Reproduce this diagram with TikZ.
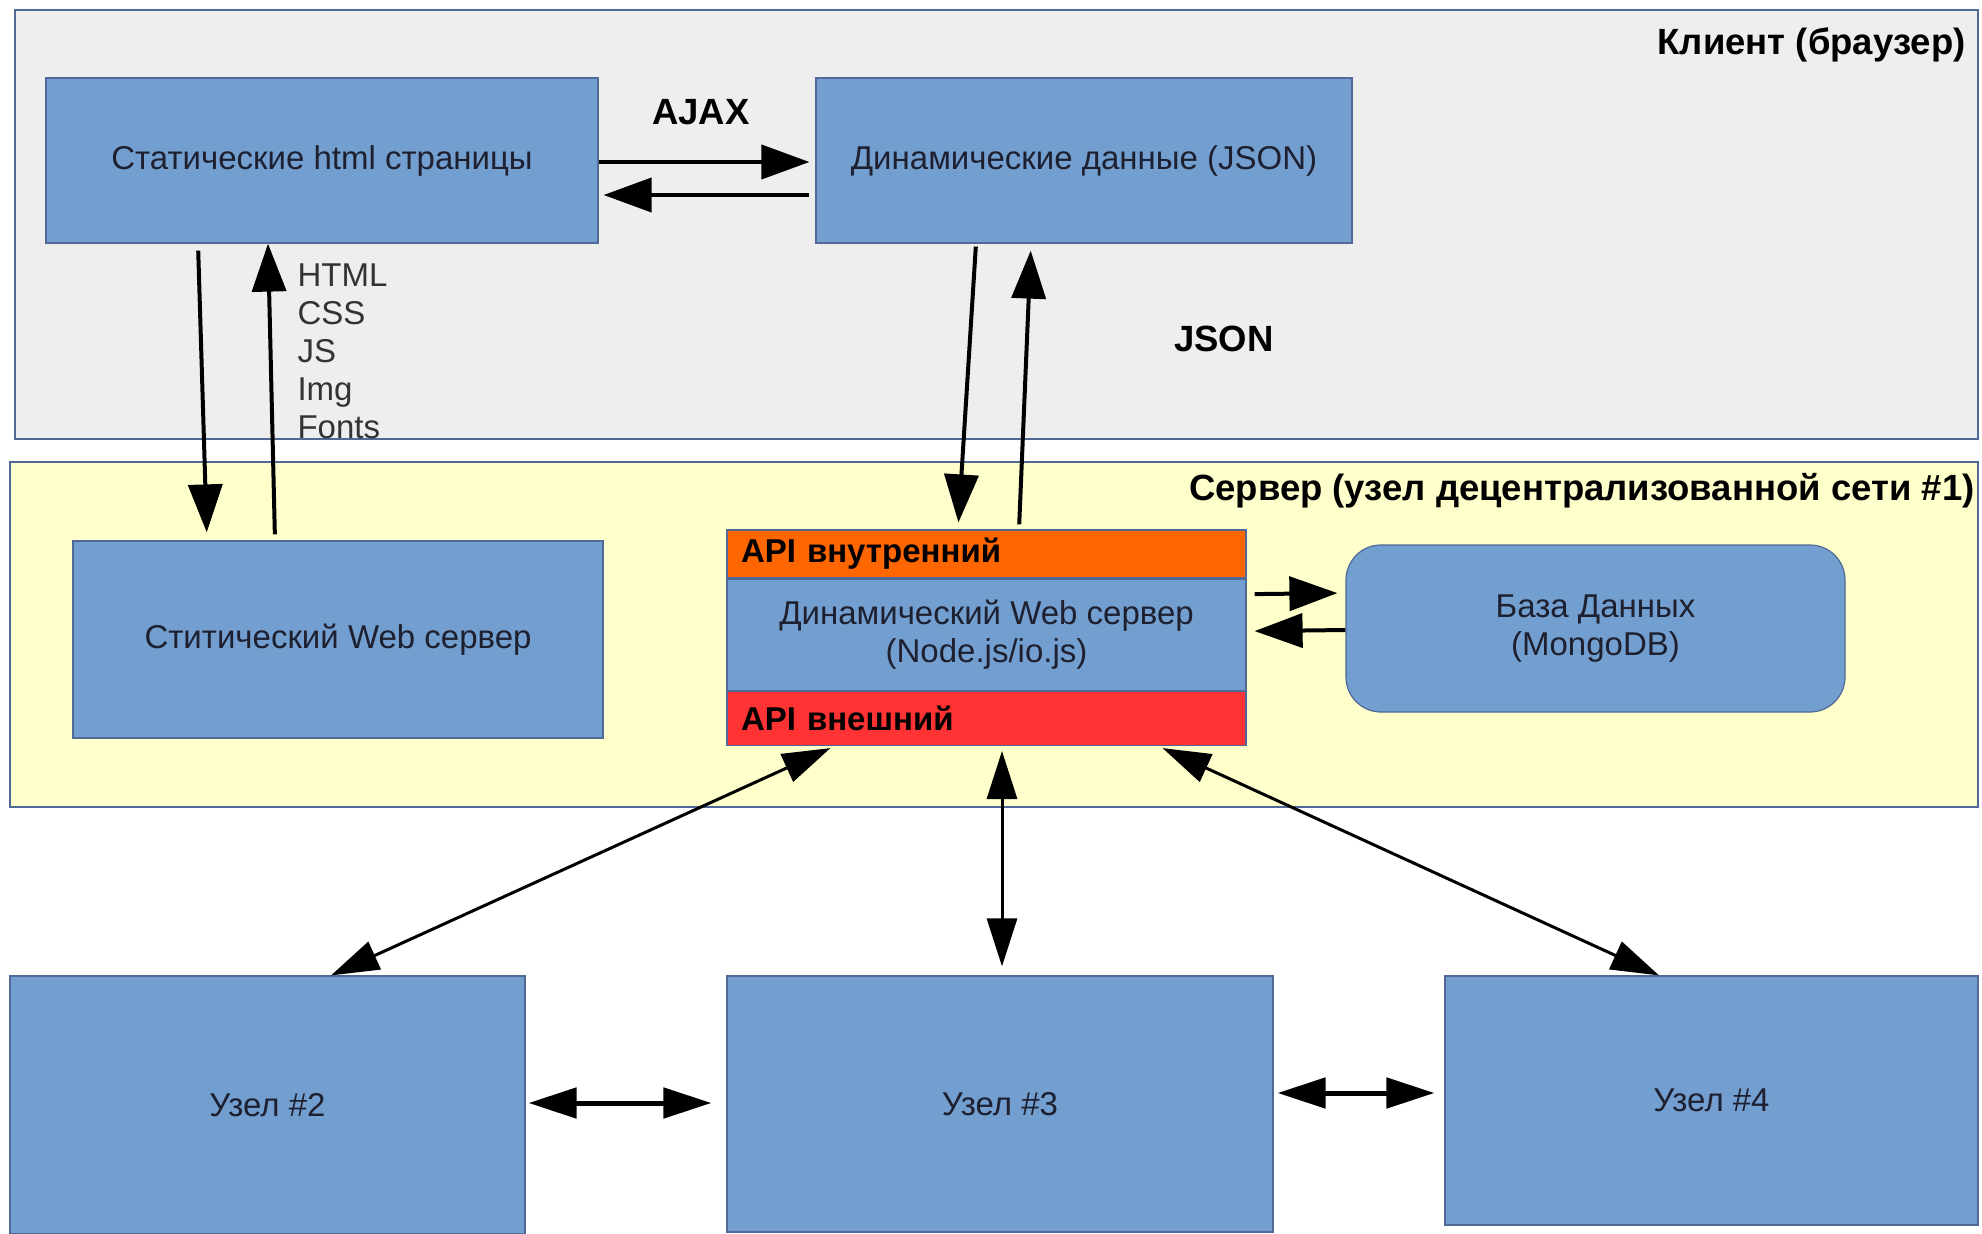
\documentclass[tikz,border=0pt]{standalone}
\usepackage{fontspec}
\setmainfont{Liberation Sans}
\usetikzlibrary{positioning, arrows.meta}

\definecolor{boxblue}{RGB}{114,159,207}
\definecolor{boxline}{RGB}{80,105,150}
\definecolor{clientbg}{RGB}{238,238,238}
\definecolor{serverbg}{RGB}{255,255,204}
\definecolor{apiorange}{RGB}{255,102,0}
\definecolor{apired}{RGB}{255,51,51}
\definecolor{txt}{RGB}{30,32,48}

\begin{document}
\begin{tikzpicture}[
    x=1pt, y=-1pt,
    every node/.style={font=\fontsize{33}{38}\selectfont, text=txt},
    panel/.style={rectangle, draw=boxline, line width=1.2pt, inner sep=0pt},
    box/.style={rectangle, draw=boxline, fill=boxblue, line width=1.2pt, inner sep=0pt, align=center},
    api/.style={rectangle, draw=boxline, line width=1.2pt, minimum width=519pt, text width=491pt, inner xsep=14pt, inner ysep=0pt, align=left, font=\fontsize{33}{38}\selectfont\bfseries, text=black},
    title/.style={font=\fontsize{36.5}{42}\selectfont\bfseries, text=black},
    arrow/.style={-{Triangle[length=48pt, width=34pt]}, line width=4pt},
    link/.style={{Triangle[length=48pt, width=30pt]}-{Triangle[length=48pt, width=30pt]}, line width=3pt}
    ]
    \useasboundingbox (0,0) rectangle (1982,1234);

    % Области
    \node[panel, fill=clientbg, minimum width=1963pt, minimum height=429pt] (Client) at (996.5,224.5) {};
    \node[panel, fill=serverbg, minimum width=1968pt, minimum height=345pt] (Server) at (994,634.5) {};
    \node[title, anchor=east] (ClientTitle) at (1969,45) {Клиент (браузер)};
    \node[title, anchor=east] (ServerTitle) at (1978,491) {Сервер (узел децентрализованной сети \#1)};

    % Клиент
    \node[box, minimum width=552pt, minimum height=165pt] (Html) at (322,160.5) {Статические html страницы};
    \node[box, minimum width=536pt, minimum height=165pt] (Json) at (1084,160.5) {Динамические данные (JSON)};
    \node[title] (Ajax) at (701,112) {AJAX};
    \node[title] (JsonLabel) at (1224,339) {JSON};
    \node[anchor=west, align=left, text=black!80] (Files) at (294,351) {HTML\\CSS\\JS\\Img\\Fonts};

    % Сервер
    \node[box, minimum width=530pt, minimum height=197pt] (Static) at (338,639.5) {Ститический Web сервер};
    \node[api, fill=apiorange, minimum height=48pt] (ApiIn) at (986.5,554) {API внутренний};
    \node[box, minimum width=519pt, minimum height=111pt, below=0pt of ApiIn] (Dynamic) {Динамический Web сервер\\(Node.js/io.js)};
    \node[api, fill=apired, minimum height=54pt, below=0pt of Dynamic] (ApiOut) {API внешний};
    \node[box, rounded corners=35pt, minimum width=499pt, minimum height=167pt] (Db) at (1595.5,628.5) {База Данных\\(MongoDB)};

    % Узлы сети
    \node[box, minimum width=515pt, minimum height=258pt] (Node2) at (267.5,1105) {Узел \#2};
    \node[box, minimum width=546pt, minimum height=256pt] (Node3) at (1000,1104) {Узел \#3};
    \node[box, minimum width=533pt, minimum height=249pt] (Node4) at (1711.5,1100.5) {Узел \#4};

    % Соединения
    \draw[arrow, shorten >=6pt] ([yshift=-1.5pt]Html.east) -- ([yshift=-1.5pt]Json.west);
    \draw[arrow, shorten >=5pt, shorten <=6pt] ([yshift=-34.5pt]Json.west) -- ([yshift=-34.5pt]Html.east);
    \draw[arrow, shorten <=7pt, shorten >=8pt] ([xshift=-124pt]Html.south) -- ([xshift=-131pt]Static.north);
    \draw[arrow, shorten <=6pt] ([xshift=-63pt]Static.north) -- ([xshift=-54pt]Html.south);
    \draw[arrow, shorten <=3pt, shorten >=7pt] ([xshift=-108pt]Json.south) -- ([xshift=-28.5pt]ApiIn.north);
    \draw[arrow, shorten <=5pt, shorten >=7pt] ([xshift=32.5pt]ApiIn.north) -- ([xshift=-53pt]Json.south);
    \draw[arrow, shorten <=8pt, shorten >=8pt] ([yshift=40.5pt]Dynamic.east) -- ([yshift=35.5pt]Db.west);
    \draw[arrow, shorten >=8pt] ([yshift=-1.5pt]Db.west) -- ([yshift=3.5pt]Dynamic.east);
    \draw[link, shorten <=5pt] ([xshift=-151.5pt]ApiOut.south) -- ([xshift=63.5pt]Node2.north);
    \draw[link, shorten <=5pt, shorten >=9pt] ([xshift=15.5pt]ApiOut.south) -- ([xshift=2pt]Node3.north);
    \draw[link, shorten <=5pt] ([xshift=171.5pt]ApiOut.south) -- ([xshift=-52.5pt]Node4.north);
    \draw[link, line width=5pt, shorten <=3pt, shorten >=15pt] ([yshift=2pt]Node2.east) -- ([yshift=1pt]Node3.west);
    \draw[link, line width=5pt, shorten <=4pt, shorten >=10pt] ([yshift=11pt]Node3.east) -- ([yshift=7.5pt]Node4.west);

\end{tikzpicture}
\end{document}
